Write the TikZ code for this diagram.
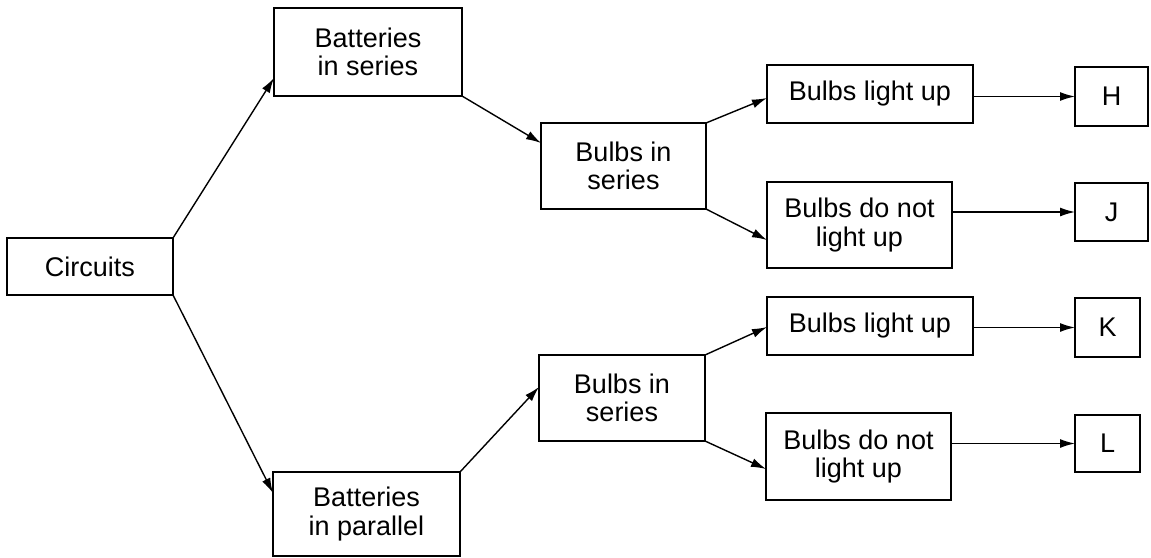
\documentclass[tikz,border=0pt]{standalone}
\usepackage{fontspec}
\setmainfont{Liberation Sans}
\usetikzlibrary{arrows.meta}

\begin{document}
\begin{tikzpicture}[x=1pt,y=-1pt,
  box/.style={draw, line width=1.5pt, inner sep=0pt, outer sep=0pt,
    align=center, font=\fontsize{27}{28.5}\selectfont},
  arr/.style={line width=1.4pt, -{Latex[length=15pt,width=9pt]}}]
  \useasboundingbox (0,0) rectangle (1151,557);

  % root
  \node[box, minimum width=166, minimum height=57] (circ) at (90,266.5) {Circuits};

  % battery arrangements
  \node[box, minimum width=188, minimum height=88] (bser) at (368,52) {Batteries\\in series};
  \node[box, minimum width=187, minimum height=84] (bpar) at (366.5,514) {Batteries\\in parallel};

  % bulb arrangements
  \node[box, minimum width=165, minimum height=86] (bs1) at (623.5,166) {Bulbs in\\series};
  \node[box, minimum width=166, minimum height=86] (bs2) at (622,398) {Bulbs in\\series};

  % outcomes
  \node[box, minimum width=206, minimum height=58] (lu1) at (870,94) {Bulbs light up};
  \node[box, minimum width=185, minimum height=86] (nl1) at (859.5,225) {Bulbs do not\\light up};
  \node[box, minimum width=206, minimum height=58] (lu2) at (870,326) {Bulbs light up};
  \node[box, minimum width=185, minimum height=87] (nl2) at (858.5,456.5) {Bulbs do not\\light up};

  % groups
  \node[box, minimum width=73, minimum height=59] (H) at (1111.5,96.5) {H};
  \node[box, minimum width=73, minimum height=58] (J) at (1111.5,212) {J};
  \node[box, minimum width=65, minimum height=59] (K) at (1107.5,327.5) {K};
  \node[box, minimum width=65, minimum height=57] (L) at (1107.5,443.5) {L};

  % connectors (yshift is in canvas units: positive moves up)
  \draw[arr] (circ.north east) -- ([yshift=18pt]bser.south west);
  \draw[arr] (circ.south east) -- ([yshift=-21pt]bpar.north west);
  \draw[arr] (bser.south east) -- ([yshift=-20pt]bs1.north west);
  \draw[arr] (bpar.north east) -- ([yshift=-32pt]bs2.north west);
  \draw[arr] (bs1.north east) -- ([yshift=-33pt]lu1.north west);
  \draw[arr] (bs1.south east) -- ([yshift=28pt]nl1.south west);
  \draw[arr] (bs2.north east) -- ([yshift=-30pt]lu2.north west);
  \draw[arr] (bs2.south east) -- ([yshift=-56pt]nl2.north west);
  \draw[arr] (lu1.east |- H) -- (H.west);
  \draw[arr] (nl1.east |- J) -- (J.west);
  \draw[arr] (lu2.east |- K) -- (K.west);
  \draw[arr] (nl2.east |- L) -- (L.west);
\end{tikzpicture}
\end{document}
